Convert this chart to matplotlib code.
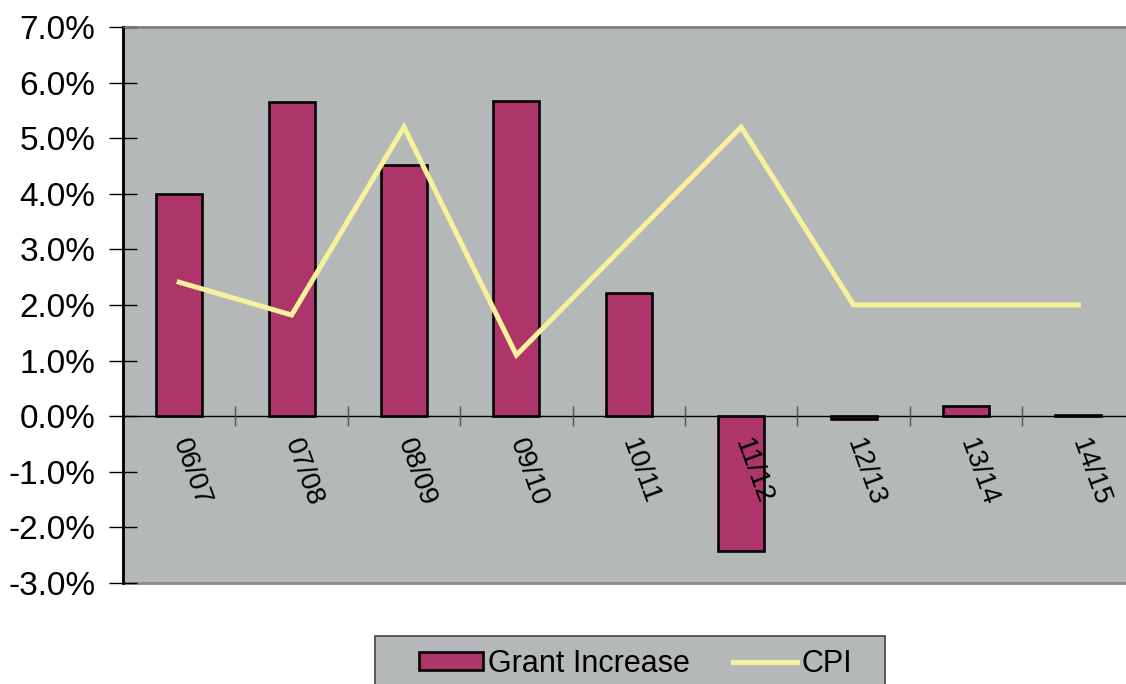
import numpy as np
import matplotlib
matplotlib.use("Agg")
import matplotlib.pyplot as plt
from matplotlib.patches import Rectangle
from matplotlib.ticker import FuncFormatter

# values (percent)
years = ["06/07", "07/08", "08/09", "09/10", "10/11", "11/12", "12/13", "13/14", "14/15"]
grant_increase = [4.0, 5.65, 4.52, 5.67, 2.21, -2.43, -0.05, 0.18, 0.03]
cpi = [2.41, 1.82, 5.2, 1.1, 3.15, 5.2, 2.0, 2.0, 2.0]

plt.rcParams['font.family'] = ['Liberation Sans', 'DejaVu Sans']

W, H = 1126, 684
fig = plt.figure(figsize=(W / 100, H / 100), dpi=100)
ax = fig.add_axes([123 / W, 1 - 583 / H, 9 * 112.4 / W, 556 / H])

bg = '#b5b8b9'
ax.set_facecolor(bg)
x = np.arange(len(years))

bars = ax.bar(x, grant_increase, width=0.41, color='#ad3569', edgecolor='black',
              linewidth=1.9, label='Grant Increase', zorder=3)
line, = ax.plot(x, cpi, color='#f6f29b', linewidth=3.6, label='CPI', zorder=4,
                solid_joinstyle='miter')

ax.set_xlim(-0.5, len(years) - 0.5)
ax.set_ylim(-3, 7)
ax.set_yticks(np.arange(-3, 8, 1))
ax.yaxis.set_major_formatter(FuncFormatter(lambda v, p: f"{v:.1f}%"))
ax.tick_params(axis='y', direction='inout', length=20, width=1, labelsize=24, pad=10)

# category axis sits on the zero line
ax.spines['bottom'].set_position(('data', 0))
ax.spines['bottom'].set_linewidth(1)
ax.spines['bottom'].set_zorder(5)
ax.xaxis.set_zorder(6)
ax.set_xticks(x)
ax.set_xticklabels(years, rotation=-70, ha='left', va='center',
                   rotation_mode='anchor', fontsize=20)
ax.set_xticks(x[:-1] + 0.5, minor=True)
ax.tick_params(axis='x', which='major', length=0, pad=17)
ax.tick_params(axis='x', which='minor', direction='inout', length=14,
               width=1, color='#555555')

ax.spines['left'].set_linewidth(2)
ax.spines['left'].set_color('black')
ax.spines['top'].set_color('#777777')
ax.spines['right'].set_visible(False)
ax.patch.set_edgecolor('#8a8a8a')
ax.patch.set_linewidth(2)

# legend box (runs off the bottom edge like the reference)
fig.patches.append(Rectangle((375 / W, -0.02), 510 / W, 0.02 + 1 - 636 / H,
                             transform=fig.transFigure, facecolor=bg,
                             edgecolor='#444444', linewidth=1.2, zorder=1))
leg = fig.legend([bars, line], ['Grant Increase', 'CPI'],
                 loc='upper left', bbox_to_anchor=(419 / W, 1 - 649 / H),
                 ncol=2, fontsize=22, frameon=False,
                 borderaxespad=0, borderpad=0, handlelength=2.1, handleheight=0.5,
                 columnspacing=1.4, handletextpad=0.16)
leg.set_zorder(2)

fig.savefig("out.png", dpi=100)
